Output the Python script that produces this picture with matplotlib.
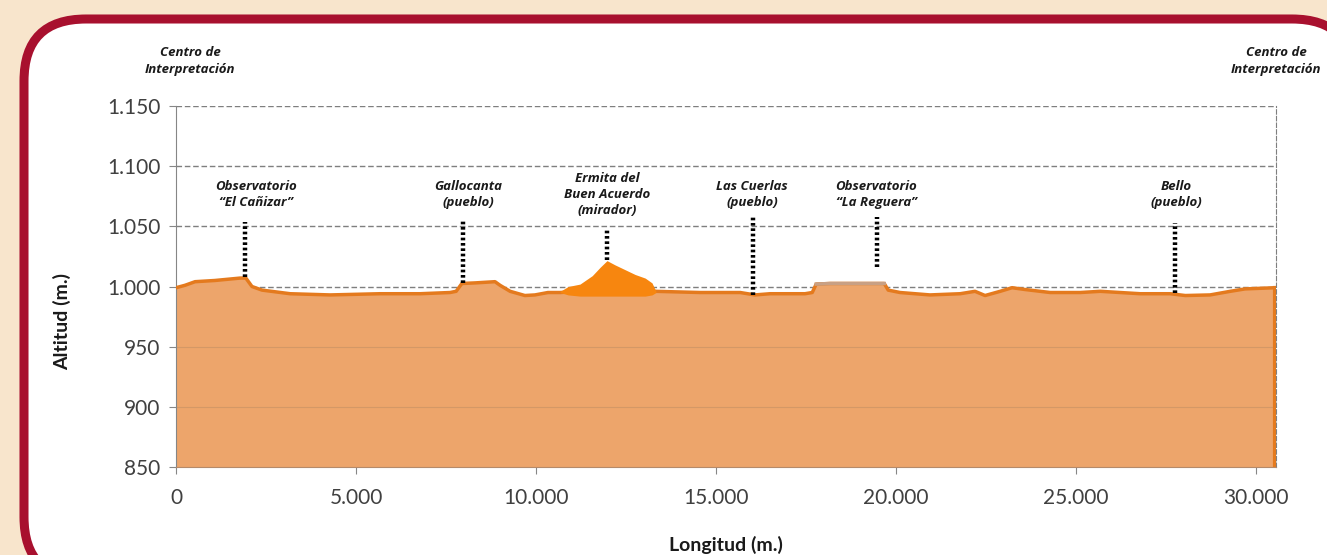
import matplotlib.pyplot as plt
from matplotlib.patches import FancyBboxPatch

# perfil de altitud (distancia en m, altitud en m)
distancia = [0, 250, 530, 1080, 1780, 1940, 2110, 2390, 3170, 4280, 5670, 6780,
             7610, 7780, 7940, 8310, 8860, 9000, 9280, 9690, 9970, 10330, 10670,
             11220, 12330, 13310, 14560, 15670, 16080, 16500, 17470, 17670, 17780,
             18170, 19670, 19780, 20110, 20940, 21780, 22190, 22470, 22890, 23220,
             23580, 24280, 25110, 25670, 26780, 27610, 28030, 28720, 29280, 29690,
             30530]
altitud = [999, 1001, 1004, 1005, 1007, 1007, 1000, 997, 994, 993, 994, 994,
           995, 996, 1002.5, 1003, 1004, 1001, 996, 992.5, 993, 995, 995,
           996, 997, 996, 995, 995, 993, 994, 994, 995, 1002,
           1002.5, 1002.5, 997, 995, 993, 994, 996, 992.5, 996, 999,
           997.5, 995, 995, 996, 994, 994, 992.5, 993, 996, 998,
           999]

# cerro de la Ermita
cerro_x = [10670, 10890, 11220, 11560, 11780, 11970, 12190, 12470, 12750, 13030, 13220, 13330]
cerro_y = [996, 1000, 1002, 1009, 1016, 1021.5, 1018, 1014, 1010, 1007, 1003, 996]
cerro_base = [995, 993, 992, 992, 992, 992, 992, 992, 992, 992, 993, 995]

# puntos de interes
puntos = ["Observatorio\n\u201cEl Cañizar\u201d", "Gallocanta\n(pueblo)",
          "Ermita del\nBuen Acuerdo\n(mirador)", "Las Cuerlas\n(pueblo)",
          "Observatorio\n\u201cLa Reguera\u201d", "Bello\n(pueblo)"]
puntos_x = [1917, 7970, 11970, 16030, 19470, 27750]
texto_x = [2220, 8110, 11970, 16000, 19440, 27780]
linea_top = [1054, 1056, 1049, 1057.5, 1057.5, 1052.5]
linea_bot = [1007.5, 1003, 1022, 993, 1016, 995]

yticks = [850, 900, 950, 1000, 1050, 1100, 1150]
ytick_labels = ["850", "900", "950", "1.000", "1.050", "1.100", "1.150"]
xticks = [0, 5000, 10000, 15000, 20000, 25000, 30000]
xtick_labels = ["0", "5.000", "10.000", "15.000", "20.000", "25.000", "30.000"]

relleno = "#EDA56B"
linea = "#E47A1E"
cerro = "#F7860F"

plt.rcParams['font.family'] = ['Lato', 'DejaVu Sans']
etiqueta = dict(family=['Open Sans', 'DejaVu Sans'], fontsize=9.5, fontweight="bold",
                style="italic", color="#1A1A1A")

fig = plt.figure(figsize=(13.27, 5.55), dpi=100)
fig.patch.set_facecolor("#F8E5CC")

# marco redondeado
bg = fig.add_axes([0, 0, 1, 1])
bg.set_xlim(0, 1327)
bg.set_ylim(555, 0)
bg.axis("off")
bg.add_patch(FancyBboxPatch((24, 19), 1330, 560, boxstyle="round,pad=0,rounding_size=62",
                            facecolor="white", edgecolor="#A8102E", linewidth=6.5))

ax = fig.add_axes([176 / 1327, 1 - 467 / 555, 1100 / 1327, 361 / 555])
ax.set_xlim(0, 30550)
ax.set_ylim(850, 1150)
ax.set_facecolor("none")

for y in [1000, 1050, 1100, 1150]:
    ax.axhline(y, color="#7F7F7F", lw=1, ls=(0, (4, 2)), zorder=1)

ax.fill_between(distancia, altitud, 850, color=relleno, lw=0, zorder=2)
for y in [900, 950]:
    ax.axhline(y, color="#D49866", lw=0.8, zorder=2.2)
ax.plot(distancia, altitud, color=linea, lw=2.5, zorder=3)
ax.fill_between(cerro_x, cerro_base, cerro_y, color=cerro, lw=0, zorder=3.2)
# meseta del observatorio en gris
ax.plot(distancia[32:35], altitud[32:35], color="#C8A084", lw=2.5, zorder=3.5)
ax.plot([distancia[-1], distancia[-1]], [850, altitud[-1]], color=linea, lw=3, zorder=3)

for i in range(len(puntos)):
    ax.plot([puntos_x[i], puntos_x[i]], [linea_bot[i], linea_top[i]], color="black",
            lw=3.2, ls=(0, (0.6, 0.6)), zorder=4)
    ax.text(texto_x[i], 1076.5, puntos[i], ha="center", va="center",
            linespacing=1.3, **etiqueta)

for xc in [390, 30550]:
    ax.text(xc, 1187.5, "Centro de\nInterpretación", ha="center", va="center",
            linespacing=1.4, clip_on=False, **etiqueta)

ax.spines["top"].set_visible(False)
ax.spines["right"].set_color("#7F7F7F")
ax.spines["right"].set_linestyle((0, (4, 2)))
ax.spines["left"].set_color("#868686")
ax.spines["bottom"].set_color("#B58A6A")
ax.set_yticks(yticks)
ax.set_yticklabels(ytick_labels)
ax.set_xticks(xticks)
ax.set_xticklabels(xtick_labels)
ax.tick_params(axis="both", colors="#868686", labelcolor="#404040", labelsize=15, length=5)
ax.tick_params(axis="y", pad=6)
ax.tick_params(axis="x", pad=10)

fig.text(726 / 1327, 1 - 545 / 555, "Longitud (m.)", ha="center", va="center",
         fontsize=14, fontweight="bold", color="#1A1A1A")
fig.text(62 / 1327, 1 - 322 / 555, "Altitud (m.)", ha="center", va="center",
         fontsize=14, fontweight="bold", color="#1A1A1A", rotation=90)

fig.savefig("out.png", dpi=100, facecolor=fig.get_facecolor())
